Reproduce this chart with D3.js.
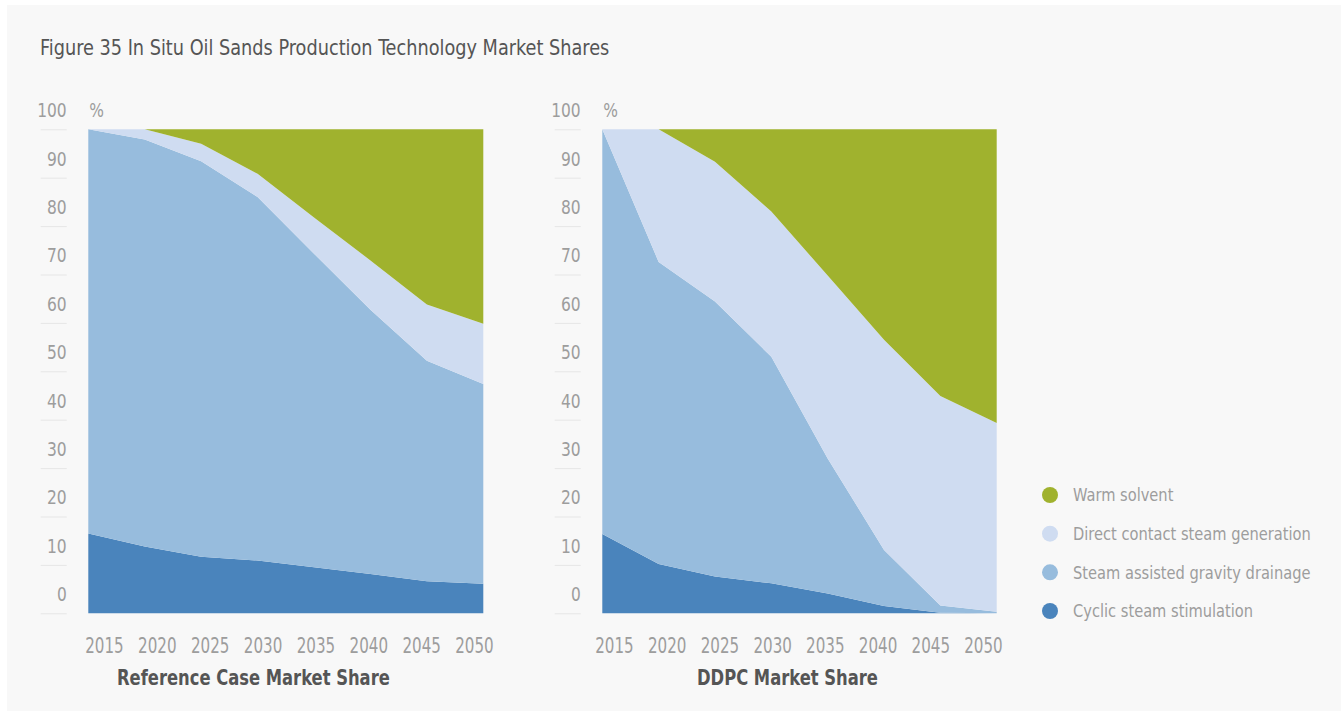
<!DOCTYPE html>
<html>
<head>
<meta charset="utf-8">
<script src="https://cdn.jsdelivr.net/npm/d3@7/dist/d3.min.js"></script>
<style>
  html, body { margin: 0; padding: 0; background: #ffffff; }
  svg { display: block; }
  text { font-family: "DejaVu Sans Condensed", "Liberation Sans Narrow", sans-serif; }
</style>
</head>
<body>
<svg id="chart" width="1341" height="711"></svg>
<script>
// ---- data -------------------------------------------------------------
const years = [2015, 2020, 2025, 2030, 2035, 2040, 2045, 2050];
const yTicks = [0, 10, 20, 30, 40, 50, 60, 70, 80, 90, 100];

const seriesNames = [
  "Cyclic steam stimulation",
  "Steam assisted gravity drainage",
  "Direct contact steam generation",
  "Warm solvent"
];
const seriesColors = ["#4a84bc", "#97bcdd", "#cfdcf1", "#a0b22e"];

// Reference case market share, % (stacked bottom to top)
const refCyclic   = [16.5, 13.8, 11.7, 10.9,  9.5,  8.1,  6.6,  6.1];
const refSagd     = [83.5, 84.1, 81.7, 75.1, 64.8, 54.6, 45.6, 41.3];
const refDirect   = [ 0.0,  2.1,  3.6,  4.8,  7.5, 10.2, 11.6, 12.4];
const refSolvent  = [ 0.0,  0.0,  3.0,  9.2, 18.2, 27.1, 36.2, 40.2];

// DDPC market share, %
const ddpcCyclic  = [16.4, 10.2,  7.6,  6.2,  4.1,  1.5,  0.1,  0.0];
const ddpcSagd    = [83.6, 62.4, 56.8, 46.8, 27.9, 11.6,  1.5,  0.3];
const ddpcDirect  = [ 0.0, 27.4, 28.9, 30.0, 37.8, 43.4, 43.3, 39.0];
const ddpcSolvent = [ 0.0,  0.0,  6.7, 17.0, 30.2, 43.5, 55.1, 60.7];

// ---- helpers ----------------------------------------------------------
// squeeze text horizontally so it reads like a narrow typeface
function condense(sel, factor) {
  sel.each(function () {
    const w = this.getComputedTextLength();
    d3.select(this)
      .attr("textLength", (w * factor).toFixed(1))
      .attr("lengthAdjust", "spacingAndGlyphs");
  });
}

// ---- layout -----------------------------------------------------------
const svg = d3.select("#chart");
const labelColor = "#9d9d9d";
const darkText = "#555555";

svg.append("rect")
  .attr("x", 7).attr("y", 5)
  .attr("width", 1334).attr("height", 706)
  .attr("fill", "#f8f8f8");

svg.append("text")
  .attr("x", 40).attr("y", 55)
  .attr("font-size", 21)
  .attr("fill", darkText)
  .text("Figure 35 In Situ Oil Sands Production Technology Market Shares")
  .call(condense, 0.937);

const plotTop = 129.3, plotBottom = 613.3;

const panels = [
  {
    title: "Reference Case Market Share",
    left: 88.3, right: 483.3,
    tickX: 66.7,
    labelRange: [104, 474],
    titleX: 117,
    values: [refCyclic, refSagd, refDirect, refSolvent]
  },
  {
    title: "DDPC Market Share",
    left: 602.3, right: 996.7,
    tickX: 580.7,
    labelRange: [614, 983],
    titleX: 697,
    values: [ddpcCyclic, ddpcSagd, ddpcDirect, ddpcSolvent]
  }
];

const y = d3.scaleLinear().domain([0, 100]).range([plotBottom, plotTop]);

panels.forEach(p => {
  const g = svg.append("g");

  const x = d3.scaleLinear().domain([years[0], years[years.length - 1]])
    .range([p.left, p.right]);

  // rows of { year, series... } for d3.stack
  const rows = years.map((yr, i) => {
    const r = { year: yr };
    seriesNames.forEach((s, k) => { r[s] = p.values[k][i]; });
    return r;
  });
  const stacked = d3.stack().keys(seriesNames)(rows);

  const area = d3.area()
    .x(d => x(d.data.year))
    .y0(d => y(d[0]))
    .y1(d => y(d[1]));

  g.selectAll("path.layer")
    .data(stacked)
    .join("path")
    .attr("class", "layer")
    .attr("d", area)
    .attr("fill", (d, i) => seriesColors[i]);

  // y axis: short tick lines with labels sitting above them
  const yAxis = d3.axisLeft(y)
    .tickValues(yTicks)
    .tickSize(26)
    .tickPadding(-26)
    .tickFormat(d3.format("d"));
  const ya = g.append("g")
    .attr("transform", `translate(${p.tickX},0)`)
    .call(yAxis);
  ya.select(".domain").remove();
  ya.selectAll(".tick line").attr("stroke", "#e6e6e6").attr("stroke-width", 1);
  ya.selectAll(".tick text")
    .attr("y", -19)
    .attr("fill", labelColor)
    .attr("font-size", 20)
    .attr("font-family", null)
    .call(condense, 0.86);

  g.append("text")
    .attr("x", p.left + 1).attr("y", 117)
    .attr("font-size", 20)
    .attr("fill", labelColor)
    .text("%")
    .call(condense, 0.86);

  // x axis labels
  const xl = d3.scalePoint().domain(years).range(p.labelRange);
  const xAxis = d3.axisBottom(xl).tickSize(0).tickPadding(0);
  const xa = g.append("g")
    .attr("transform", "translate(0,638)")
    .call(xAxis);
  xa.select(".domain").remove();
  xa.selectAll(".tick text")
    .attr("fill", labelColor)
    .attr("font-size", 21)
    .attr("font-family", null)
    .call(condense, 0.8);

  g.append("text")
    .attr("x", p.titleX).attr("y", 685)
    .attr("font-size", 21)
    .attr("font-weight", "bold")
    .attr("fill", darkText)
    .text(p.title)
    .call(condense, 0.866);
});

// ---- legend (top to bottom: warm solvent first) ----------------------
const legendItems = seriesNames.map((n, i) => ({ name: n, color: seriesColors[i] })).reverse();
const lg = svg.append("g");
const legendY = d3.scalePoint().domain(legendItems.map(d => d.name)).range([495, 611]);
const item = lg.selectAll("g.item")
  .data(legendItems)
  .join("g")
  .attr("class", "item")
  .attr("transform", d => `translate(0,${legendY(d.name)})`);
item.append("circle")
  .attr("cx", 1050).attr("cy", 0).attr("r", 8)
  .attr("fill", d => d.color);
item.append("text")
  .attr("x", 1073).attr("y", 0).attr("dy", "0.37em")
  .attr("font-size", 17.5)
  .attr("fill", labelColor)
  .text(d => d.name)
  .call(condense, 0.93);
</script>
</body>
</html>
